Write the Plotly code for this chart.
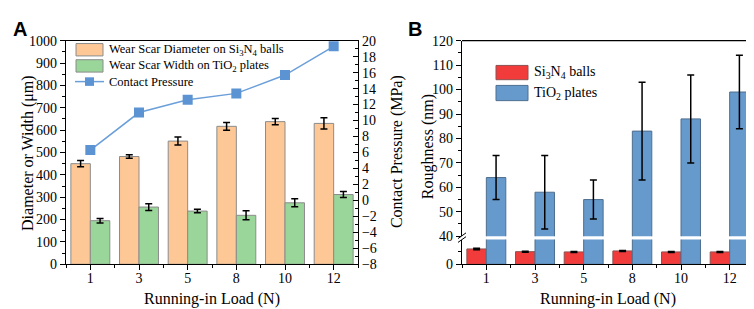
import plotly.graph_objects as go

# ---------------- data ----------------
loads = ["1", "3", "5", "8", "10", "12"]
diameter = [450, 482, 551, 617, 638, 630]
diameter_err = [14, 8, 18, 17, 14, 25]
width = [195, 256, 238, 219, 275, 312]
width_err = [10, 15, 8, 20, 18, 13]
pressure = [6.3, 11.0, 12.6, 13.4, 15.7, 19.3]

rough_si3n4 = [6.2, 5.1, 5.0, 5.4, 5.0, 5.0]
rough_si3n4_err = [0.3, 0.2, 0.2, 0.2, 0.2, 0.2]
rough_tio2 = [64, 58, 55, 83, 88, 99]
rough_tio2_err = [9, 15, 8, 20, 18, 15]

W, H = 754, 309
def X(px): return px / W
def Y(py): return 1 - py / H

xs = list(range(len(loads)))

ORANGE = "#FDC796"
GREEN = "#9AD59A"
LBLUE = "#6B9FD9"
RED = "#F23C3C"
BBLUE = "#6699CC"
FONT = "Liberation Serif"
SANS = "Liberation Sans"

fig = go.Figure()

err_style = dict(type="data", color="black", thickness=1.5, width=3.5)

# ---- Panel A ----
fig.add_trace(go.Bar(x=xs, y=diameter, marker=dict(color=ORANGE, line=dict(color="#8c8c8c", width=1)),
                     error_y=dict(array=diameter_err, **err_style), xaxis="x", yaxis="y", showlegend=False))
fig.add_trace(go.Bar(x=xs, y=width, marker=dict(color=GREEN, line=dict(color="#8c8c8c", width=1)),
                     error_y=dict(array=width_err, **err_style), xaxis="x", yaxis="y", showlegend=False))
fig.add_trace(go.Scatter(x=xs, y=pressure, mode="lines+markers",
                         line=dict(color=LBLUE, width=1.5),
                         marker=dict(symbol="square", size=10, color="#5B93D3"),
                         xaxis="x", yaxis="y2", showlegend=False))

# ---- Panel B (broken axis) ----
fig.add_trace(go.Bar(x=xs, y=rough_si3n4, marker=dict(color=RED, line=dict(color="#8c5050", width=1)),
                     error_y=dict(array=rough_si3n4_err, **err_style), xaxis="x2", yaxis="y3", showlegend=False))
fig.add_trace(go.Bar(x=xs, y=rough_tio2, marker=dict(color=BBLUE, line=dict(color="#4f6f8f", width=1)),
                     xaxis="x2", yaxis="y3", showlegend=False))
fig.add_trace(go.Bar(x=xs, y=rough_si3n4, marker=dict(color=RED, line=dict(color="#8c5050", width=1)),
                     xaxis="x2", yaxis="y4", showlegend=False))
fig.add_trace(go.Bar(x=xs, y=rough_tio2, marker=dict(color=BBLUE, line=dict(color="#4f6f8f", width=1)),
                     error_y=dict(array=rough_tio2_err, **err_style), xaxis="x2", yaxis="y4", showlegend=False))

tickfont = dict(family=FONT, size=14, color="black")
axcommon = dict(showline=True, linecolor="black", linewidth=1.2, ticklen=5,
                tickwidth=1.2, tickcolor="black", showgrid=False, zeroline=False, tickfont=tickfont)
minor_out = dict(ticklen=3, tickcolor="black", ticks="outside")

ya_bottom, ya_top = Y(262), Y(27)

fig.update_layout(
    width=W, height=H, margin=dict(l=0, r=0, t=0, b=0),
    font=dict(family=FONT, color="black"),
    paper_bgcolor="white", plot_bgcolor="rgba(0,0,0,0)",
    barmode="group", bargap=0.2, bargroupgap=0,
    xaxis=dict(domain=[X(58), X(350)], anchor="y", range=[-0.5, 5.5], tickvals=xs, ticktext=loads,
               mirror=True, ticks="outside", ticklabelstandoff=-4,
               minor=dict(dtick=0.5, tick0=0.5, **minor_out), **axcommon),
    yaxis=dict(domain=[ya_bottom, ya_top], anchor="x", range=[0, 1000], dtick=100, ticks="outside",
               minor=dict(dtick=50, **minor_out), **axcommon),
    yaxis2=dict(overlaying="y", side="right", anchor="x", range=[-8, 20], dtick=2, ticks="inside",
                minor=dict(dtick=1, ticklen=3, tickcolor="black", ticks="inside"), **axcommon),
    xaxis2=dict(domain=[X(454), X(746)], anchor="y3", range=[-0.5, 5.5], tickvals=xs, ticktext=loads,
                ticks="outside", ticklabelstandoff=-4,
                minor=dict(dtick=0.5, tick0=0.5, **minor_out), **axcommon),
    yaxis3=dict(domain=[ya_bottom, Y(236)], anchor="x2", range=[0, 10], tickvals=[0], mirror=True,
                ticks="outside", minor=dict(tickvals=[5], **minor_out), **axcommon),
    yaxis4=dict(domain=[Y(232.5), ya_top], anchor="x2", range=[40, 120], dtick=10, mirror=True,
                ticks="outside", minor=dict(dtick=5, **minor_out), **axcommon),
)

shapes = []
shapes.append(dict(type="line", xref="paper", yref="paper", x0=X(454), x1=X(746), y0=ya_top, y1=ya_top,
                   line=dict(color="black", width=1.2)))
for bx in (454, 746):
    for dy in (-2, 2):
        cy = 234 + dy
        shapes.append(dict(type="line", xref="paper", yref="paper",
                           x0=X(bx - 4), y0=Y(cy + 3), x1=X(bx + 4), y1=Y(cy - 3),
                           line=dict(color="black", width=1)))

annotations = []
legA = [("Wear Scar Diameter on Si<sub>3</sub>N<sub>4</sub> balls", ORANGE, 30, 43),
        ("Wear Scar Width on TiO<sub>2</sub> plates", GREEN, 47, 60)]
for txt, col, y0, y1 in legA:
    shapes.append(dict(type="rect", xref="paper", yref="paper", x0=X(68), x1=X(95), y0=Y(y1), y1=Y(y0),
                       fillcolor=col, line=dict(color="#8c8c8c", width=1)))
    annotations.append(dict(text=txt, x=X(99), y=Y((y0 + y1) / 2), xref="paper", yref="paper",
                            xanchor="left", yanchor="middle", showarrow=False,
                            font=dict(family=FONT, size=12.5, color="black")))
shapes.append(dict(type="line", xref="paper", yref="paper", x0=X(67), x1=X(96), y0=Y(70), y1=Y(70),
                   line=dict(color=LBLUE, width=1.5)))
shapes.append(dict(type="rect", xref="paper", yref="paper", x0=X(77), x1=X(86), y0=Y(74.5), y1=Y(65.5),
                   fillcolor="#5B93D3", line=dict(width=0)))
annotations.append(dict(text="Contact Pressure", x=X(99), y=Y(70), xref="paper", yref="paper",
                        xanchor="left", yanchor="middle", showarrow=False,
                        font=dict(family=FONT, size=12.5, color="black")))
legB = [("Si<sub>3</sub>N<sub>4</sub> balls", RED, 53, 68, "#8c5050"),
        ("TiO<sub>2</sub> plates", BBLUE, 74, 90, "#4f6f8f")]
for txt, col, y0, y1, lc in legB:
    shapes.append(dict(type="rect", xref="paper", yref="paper", x0=X(488), x1=X(520), y0=Y(y1), y1=Y(y0),
                       fillcolor=col, line=dict(color=lc, width=1)))
    annotations.append(dict(text=txt, x=X(524), y=Y((y0 + y1) / 2), xref="paper", yref="paper",
                            xanchor="left", yanchor="middle", showarrow=False,
                            font=dict(family=FONT, size=14, color="black")))

titlefont = dict(family=FONT, size=16, color="black")
annotations += [
    dict(text="Running-in Load (N)", x=X(204), y=Y(299), xref="paper", yref="paper", showarrow=False,
         xanchor="center", yanchor="middle", font=titlefont),
    dict(text="Running-in Load (N)", x=X(600), y=Y(299), xref="paper", yref="paper", showarrow=False,
         xanchor="center", yanchor="middle", font=titlefont),
    dict(text="Diameter or Width (μm)", x=X(20), y=Y(145), xref="paper", yref="paper", showarrow=False,
         textangle=-90, xanchor="center", yanchor="middle", font=titlefont),
    dict(text="Contact Pressure (MPa)", x=X(389), y=Y(143), xref="paper", yref="paper", showarrow=False,
         textangle=-90, xanchor="center", yanchor="middle", font=titlefont),
    dict(text="Roughness (nm)", x=X(420), y=Y(139), xref="paper", yref="paper", showarrow=False,
         textangle=-90, xanchor="center", yanchor="middle", font=titlefont),
    dict(text="<b>A</b>", x=X(3), y=Y(1), xref="paper", yref="paper", showarrow=False,
         xanchor="left", yanchor="top", font=dict(family=SANS, size=20, color="black")),
    dict(text="<b>B</b>", x=X(398), y=Y(1), xref="paper", yref="paper", showarrow=False,
         xanchor="left", yanchor="top", font=dict(family=SANS, size=20, color="black")),
]

fig.update_layout(shapes=shapes, annotations=annotations)
fig.write_html("out.html")
